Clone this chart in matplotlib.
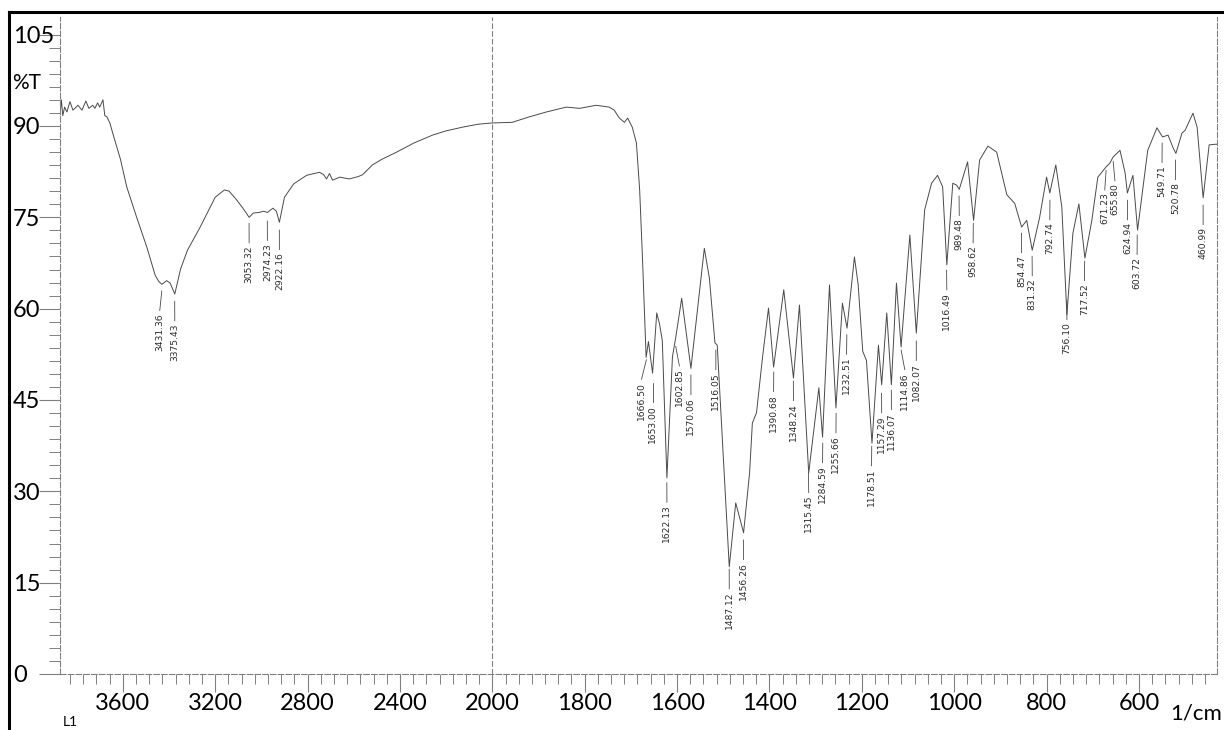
import numpy as np
import matplotlib
matplotlib.use("Agg")
import matplotlib.pyplot as plt

# IR spectrum (wavenumber in 1/cm, %T)
wn_hi = [3872, 3866, 3860, 3852, 3842, 3829, 3816, 3794, 3777, 3760,
         3747, 3730, 3721, 3709, 3700, 3686, 3678, 3669, 3656, 3645,
         3610, 3583, 3540, 3496, 3460, 3445, 3431, 3410, 3395, 3375,
         3350, 3320, 3265, 3200, 3160, 3140, 3110, 3080, 3053, 3035,
         3010, 2990, 2974, 2950, 2935, 2922, 2900, 2860, 2804, 2748,
         2730, 2718, 2705, 2692, 2660, 2620, 2580, 2562, 2519, 2480,
         2415, 2340, 2259, 2200, 2130, 2060, 2000]
t_hi = [91.8, 94.3, 91.7, 93.1, 92.3, 94.0, 92.6, 93.4, 92.6, 94.1,
        92.9, 93.4, 92.9, 93.8, 93.1, 94.3, 91.7, 91.5, 90.5, 89.0,
        84.5, 80.0, 75.0, 70.1, 65.5, 64.5, 64.0, 64.6, 64.2, 62.4,
        66.5, 69.6, 73.4, 78.3, 79.5, 79.3, 78.0, 76.5, 75.0, 75.7,
        75.8, 76.0, 75.8, 76.5, 76.0, 74.2, 78.3, 80.5, 81.9, 82.4,
        82.0, 81.3, 82.2, 81.1, 81.6, 81.3, 81.7, 82.0, 83.6, 84.5,
        85.7, 87.2, 88.5, 89.2, 89.8, 90.3, 90.5]

wn_lo = [1957, 1920, 1883, 1840, 1811, 1775, 1747, 1736, 1725, 1714,
         1707, 1697, 1688, 1681, 1675, 1667, 1662, 1653, 1644, 1638,
         1632, 1622, 1610, 1603, 1590, 1570, 1541, 1530, 1518, 1513,
         1487, 1473, 1456, 1443, 1437, 1428, 1415, 1402, 1391, 1369,
         1348, 1335, 1315, 1293, 1285, 1270, 1256, 1242, 1232, 1216,
         1208, 1198, 1190, 1178, 1164, 1157, 1146, 1136, 1125, 1115,
         1096, 1082, 1064, 1049, 1036, 1025, 1016, 1003, 995, 989,
         971, 958, 945, 927, 908, 886, 869, 854, 843, 831,
         815, 800, 793, 780, 767, 756, 743, 730, 717, 702,
         689, 671, 663, 656, 641, 630, 625, 613, 603, 591,
         581, 561, 549, 537, 526, 520, 507, 500, 483, 474,
         461, 448, 435, 431]
t_lo = [90.6, 91.5, 92.3, 93.1, 92.9, 93.4, 93.1, 92.6, 91.3, 90.6,
        91.3, 89.8, 87.2, 79.5, 68.5, 52.0, 54.6, 49.4, 59.3, 57.5,
        54.8, 32.2, 52.1, 55.2, 61.7, 50.2, 69.9, 65.0, 54.4, 54.0,
        17.6, 28.1, 23.2, 33.0, 41.2, 42.9, 52.0, 60.1, 50.4, 63.1,
        48.6, 60.6, 33.0, 47.0, 38.9, 63.9, 43.7, 60.9, 56.8, 68.5,
        64.0, 53.0, 51.5, 37.9, 54.0, 47.5, 59.3, 47.5, 64.2, 53.7,
        72.1, 56.0, 76.2, 80.6, 81.9, 80.0, 67.2, 80.6, 80.3, 79.6,
        84.1, 74.5, 84.4, 86.7, 85.7, 78.7, 77.3, 73.4, 74.5, 69.6,
        75.0, 81.6, 79.0, 83.6, 76.7, 59.0, 72.4, 77.2, 68.3, 74.5,
        81.6, 83.3, 83.9, 84.9, 86.0, 82.3, 79.0, 81.9, 72.9, 80.0,
        86.0, 89.7, 88.2, 88.5, 86.4, 85.5, 88.8, 89.3, 92.1, 89.8,
        78.2, 86.9, 87.0, 87.0]

# peak labels: text, where the text starts (%T), x position of the text
peak_labels = ["3431.36", "3375.43", "3053.32", "2974.23", "2922.16",
               "1666.50", "1653.00", "1622.13", "1602.85", "1570.06",
               "1516.05", "1487.12", "1456.26", "1390.68", "1348.24",
               "1315.45", "1284.59", "1255.66", "1232.51", "1178.51",
               "1157.29", "1136.07", "1114.86", "1082.07", "1016.49",
               "989.48", "958.62", "854.47", "831.32", "792.74",
               "756.10", "717.52", "671.23", "655.80", "624.94",
               "603.72", "549.71", "520.78", "460.99"]
label_top = [59.3, 57.6, 70.4, 70.8, 69.3,
             48.0, 44.2, 27.8, 50.2, 45.5,
             49.6, 13.6, 18.4, 46.0, 44.5,
             29.4, 34.3, 39.2, 52.1, 33.8,
             42.5, 43.0, 49.6, 51.1, 62.7,
             74.9, 70.4, 68.8, 65.0, 74.2,
             57.8, 64.2, 79.1, 80.6, 74.2,
             68.5, 83.6, 80.8, 73.4]
label_x = [3440, 3375, 3053, 2974, 2922,
           1677, 1653, 1622, 1595, 1570,
           1516, 1487, 1456, 1391, 1348,
           1315, 1285, 1256, 1233, 1179,
           1157, 1136, 1107, 1082, 1016,
           989, 959, 854, 831, 793,
           756, 718, 674, 652, 625,
           604, 550, 521, 461]

x_major = [3600, 3200, 2800, 2400, 2000, 1800, 1600, 1400, 1200, 1000, 800, 600]
y_major = [0, 15, 30, 45, 60, 75, 90, 105]

wn = np.array(wn_hi + wn_lo, dtype=float)
tr = np.array(t_hi + t_lo, dtype=float)
assert len(wn) == len(tr)


# the chart paper uses half the scale above 2000 1/cm
def fwd(w):
    w = np.asarray(w, dtype=float)
    return np.where(w >= 2000, (w - 2000) / 400.0, (w - 2000) / 200.0)


def inv(u):
    u = np.asarray(u, dtype=float)
    return np.where(u >= 0, 2000 + 400.0 * u, 2000 + 200.0 * u)


W, H = 1224, 730
fig = plt.figure(figsize=(W / 100, H / 100), dpi=100)
ax = fig.add_axes([60 / W, 56 / H, (1217 - 60) / W, (674 - 17) / H])
ax.set_xscale('function', functions=(fwd, inv))
ax.set_xlim(3872, 431)
ax.set_ylim(0, 107.9)

line_col = '#4a4a4a'
axis_col = '#808080'
ax.plot(wn, tr, color=line_col, lw=0.7)

for s, top, lx in zip(peak_labels, label_top, label_x):
    pk = float(s)
    ax.plot([pk, lx], [top + 3.6, top + 0.4], color=line_col, lw=0.6)
    ax.text(lx, top, s, rotation=90, ha='center', va='top',
            fontsize=6.6, family='DejaVu Sans', color='#2a2a2a')

ax.axvline(2000, color=axis_col, lw=0.8, ls=(0, (5, 2)))

# axes styling
ax.spines['top'].set_visible(False)
for side in ['left', 'bottom', 'right']:
    ax.spines[side].set_color(axis_col)
    ax.spines[side].set_linewidth(0.8)
    ax.spines[side].set_linestyle((0, (5, 2)))

ax.set_xticks(x_major, [str(v) for v in x_major])
minor_x = [2000 + k * 400 / 7 for k in range(1, 35) if 2000 + k * 400 / 7 <= 3872]
minor_x += [2000 - k * 200 / 7 for k in range(1, 60) if 2000 - k * 200 / 7 >= 431]
ax.set_xticks(minor_x, minor=True)
ax.set_yticks(y_major, [str(v) for v in y_major])
ax.set_yticks([k * 15 / 7 for k in range(0, 50) if k * 15 / 7 <= 105], minor=True)

ax.tick_params(axis='x', which='major', length=13, width=0.8, color=axis_col,
               pad=1, labelsize=17)
ax.tick_params(axis='x', which='minor', length=7, width=0.7, color=axis_col)
ax.tick_params(axis='y', which='major', length=15, width=0.8, color=axis_col,
               pad=19, labelsize=17)
ax.tick_params(axis='y', which='minor', length=8, width=0.7, color=axis_col)
for lab in ax.get_xticklabels() + ax.get_yticklabels():
    lab.set_family('Lato')
for lab in ax.get_yticklabels():
    lab.set_horizontalalignment('left')

fig.text(12 / W, 1 - 83 / H, '%T', ha='left', va='center', fontsize=15, family='Lato')
fig.text(63 / W, 1 - 722 / H, 'L1', ha='left', va='center', fontsize=10, family='Lato')
fig.text(1170 / W, 1 - 713 / H, '1/cm', ha='left', va='center', fontsize=16, family='Lato')

# black border of the scanned sheet
fig.add_artist(plt.Line2D([9 / W, 9 / W], [0, 1 - 12 / H], color='black', lw=2.2,
                          transform=fig.transFigure))
fig.add_artist(plt.Line2D([9 / W, 1], [1 - 12 / H, 1 - 12 / H], color='black', lw=2.2,
                          transform=fig.transFigure))

fig.savefig('out.png', dpi=100)
